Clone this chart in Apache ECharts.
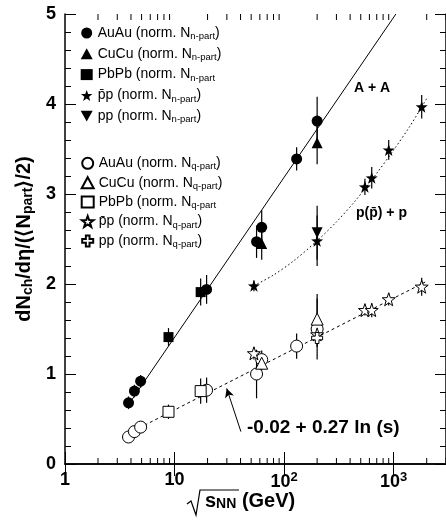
<!DOCTYPE html>
<html><head><meta charset="utf-8">
<script src="https://cdn.jsdelivr.net/npm/echarts@6/dist/echarts.min.js"></script>
<style>html,body{margin:0;padding:0;background:#fff}#c{width:446px;height:521px}</style>
</head><body><div id="c"></div>
<script>
// ---- data ----
const auauX = [3.8, 4.3, 4.9, 19.6, 56, 62.4, 130, 200];
const auauNpart = [0.68, 0.81, 0.92, 1.94, 2.47, 2.63, 3.39, 3.81];
const auauNpartErr = [0.07, 0.07, 0.07, 0.16, 0.18, 0.19, 0.13, 0.27];
const auauNq = [0.30, 0.36, 0.41, 0.82, 1.00, 1.16, 1.31, 1.50];
const auauNqErr = [0.04, 0.04, 0.04, 0.14, 0.27, 0.10, 0.14, 0.34];

const cucuX = [62.4, 200];
const cucuNpart = [2.45, 3.57];
const cucuNpartErr = [0.18, 0.24];
const cucuNq = [1.12, 1.61];
const cucuNqErr = [0.08, 0.28];

const pbpbX = [8.8, 17.3];
const pbpbNpart = [1.41, 1.91];
const pbpbNpartErr = [0.10, 0.15];
const pbpbNq = [0.58, 0.81];
const pbpbNqErr = [0.08, 0.14];

const ppbarX = [53, 200, 546, 630, 900, 1800];
const ppbarNpart = [1.98, 2.48, 3.08, 3.18, 3.49, 3.97];
const ppbarNpartErr = [0.06, 0.28, 0.09, 0.12, 0.11, 0.13];
const ppbarNq = [1.23, 1.44, 1.71, 1.71, 1.83, 1.97];
const ppbarNqErr = [0.07, 0.10, 0.06, 0.08, 0.07, 0.10];

const ppX = [200];
const ppNpart = [2.57];
const ppNpartErr = [0.30];
const ppNq = [1.40];
const ppNqErr = [0.10];

// fit curves
const aaFitX = [3.8, 1047];
const aaFitY = [0.66, 5.0];
const ppFitX = [53, 80, 120, 200, 300, 450, 700, 1000, 1400, 2000];
const ppFitY = [1.98, 2.10, 2.25, 2.48, 2.69, 2.93, 3.23, 3.49, 3.75, 4.06];
const qFitX = [3.8, 2000];
const qFitY = [0.34, 2.03];
const arrowFrom = [40.3, 0.36];
const arrowTo = [29.9, 0.84];

// axes
const xMin = 1, xMax = 3000;
const yMin = 0, yMax = 5;
const xMinorTicks = [2,3,4,5,6,7,8,9,20,30,40,50,60,70,80,90,200,300,400,500,600,700,800,900,2000,3000];

const FONT = '"Liberation Sans", Arial, Helvetica, sans-serif';
const STAR = 'path://M0,-10 L2.35,-3.24 L9.51,-3.09 L3.8,1.24 L5.88,8.09 L0,4 L-5.88,8.09 L-3.8,1.24 L-9.51,-3.09 L-2.35,-3.24 Z';
const CROSS = 'path://M-1,-3 L1,-3 L1,-1 L3,-1 L3,1 L1,1 L1,3 L-1,3 L-1,1 L-3,1 L-3,-1 L-1,-1 Z';
const DTRI = 'path://M-5,-4 L5,-4 L0,5 Z';

const zip = (xs, ys) => xs.map((x, i) => [x, ys[i]]);
const zip3 = (xs, ys, es) => xs.map((x, i) => [x, ys[i], es[i]]);

const filled = {color: '#000', opacity: 1};
const open = {color: '#fff', borderColor: '#000', borderWidth: 1, opacity: 1};

const pts = [
  {name: 'AuAu_n', x: auauX, y: auauNpart, e: auauNpartErr, symbol: 'circle', size: 11, style: filled, label: 'AuAu (norm. N{sub|n-part})'},
  {name: 'CuCu_n', x: cucuX, y: cucuNpart, e: cucuNpartErr, symbol: 'triangle', size: 11, style: filled, label: 'CuCu (norm. N{sub|n-part})'},
  {name: 'PbPb_n', x: pbpbX, y: pbpbNpart, e: pbpbNpartErr, symbol: 'rect', size: 10, style: filled, label: 'PbPb (norm. N{sub|n-part}'},
  {name: 'ppbar_n', x: ppbarX, y: ppbarNpart, e: ppbarNpartErr, symbol: STAR, size: 12, style: filled, label: 'p\u0304p (norm. N{sub|n-part})'},
  {name: 'pp_n', x: ppX, y: ppNpart, e: ppNpartErr, symbol: DTRI, size: 11, style: filled, label: 'pp (norm. N{sub|n-part})'},
  {name: 'AuAu_q', x: auauX, y: auauNq, e: auauNqErr, symbol: 'circle', size: 12, style: open, label: 'AuAu (norm. N{sub|q-part})'},
  {name: 'CuCu_q', x: cucuX, y: cucuNq, e: cucuNqErr, symbol: 'triangle', size: 12, style: open, label: 'CuCu (norm. N{sub|q-part})'},
  {name: 'PbPb_q', x: pbpbX, y: pbpbNq, e: pbpbNqErr, symbol: 'rect', size: 11, style: open, label: 'PbPb (norm. N{sub|q-part}'},
  {name: 'ppbar_q', x: ppbarX, y: ppbarNq, e: ppbarNqErr, symbol: STAR, size: 13, style: open, label: 'p\u0304p (norm. N{sub|q-part})'},
  {name: 'pp_q', x: ppX, y: ppNq, e: ppNqErr, symbol: CROSS, size: 11, style: open, label: 'pp (norm. N{sub|q-part})'}
];
const labelMap = {};
pts.forEach(p => labelMap[p.name] = p.label);

const errData = [];
pts.forEach(p => zip3(p.x, p.y, p.e).forEach(d => errData.push(d)));

const chart = echarts.init(document.getElementById('c'), null, {renderer: 'canvas'});

const legendText = {
  fontFamily: FONT, fontSize: 14, color: '#000', lineHeight: 16,
  rich: {sub: {fontFamily: FONT, fontSize: 9.5, lineHeight: 10, padding: [7, 0, 0, 0], color: '#000'}}
};

const xLabelFmt = v => {
  const p = Math.round(Math.log10(v));
  if (Math.abs(Math.log10(v) - p) > 1e-6) return '';
  if (p === 0) return '1';
  if (p === 1) return '10';
  return '10{sup|' + p + '}';
};

const option = {
  animation: false,
  backgroundColor: '#fff',
  grid: {left: 65, top: 14, width: 385, height: 450, containLabel: false},
  xAxis: [
    {type: 'log', logBase: 10, min: xMin, max: xMax, position: 'bottom',
      axisLine: {show: true, lineStyle: {color: '#000', width: 1.5}},
      axisTick: {show: true, inside: true, length: 12, lineStyle: {color: '#000', width: 1}},
      minorTick: {show: false},
      splitLine: {show: false},
      axisLabel: {show: true, margin: 7, showMaxLabel: false, color: '#000',
        fontFamily: FONT, fontSize: 18, fontWeight: 'bold', formatter: xLabelFmt,
        rich: {sup: {fontFamily: FONT, fontSize: 13, fontWeight: 'bold', padding: [0, 0, 9, 0], color: '#000'}}}
    },
    {type: 'log', logBase: 10, min: xMin, max: xMax, position: 'top',
      axisLine: {show: true, lineStyle: {color: '#000', width: 1.5}},
      axisTick: {show: true, inside: true, length: 12, lineStyle: {color: '#000', width: 1}},
      splitLine: {show: false}, axisLabel: {show: false}
    }
  ],
  yAxis: [
    {type: 'value', min: yMin, max: yMax, interval: 1, position: 'left',
      axisLine: {show: true, lineStyle: {color: '#000', width: 1.5}},
      axisTick: {show: true, inside: true, length: 11, lineStyle: {color: '#000', width: 1}},
      minorTick: {show: true, splitNumber: 5, length: 6, lineStyle: {color: '#000', width: 1}},
      splitLine: {show: false},
      axisLabel: {margin: 9, color: '#000', fontFamily: FONT, fontSize: 18, fontWeight: 'bold'},
      name: 'dN{sub|ch}/d\u03b7/(\u27e8N{sub|part}\u27e9/2)',
      nameLocation: 'middle', nameRotate: 90, nameGap: 30,
      nameTextStyle: {color: '#000', fontFamily: FONT, fontSize: 20, fontWeight: 'bold',
        rich: {sub: {fontFamily: FONT, fontSize: 14, fontWeight: 'bold', padding: [8, 0, 0, 0], color: '#000'}}}
    },
    {type: 'value', min: yMin, max: yMax, interval: 1, position: 'right',
      axisLine: {show: true, lineStyle: {color: '#000', width: 1.5}},
      axisTick: {show: true, inside: true, length: 11, lineStyle: {color: '#000', width: 1}},
      minorTick: {show: true, splitNumber: 5, length: 6, lineStyle: {color: '#000', width: 1}},
      splitLine: {show: false}, axisLabel: {show: false}
    }
  ],
  legend: [
    {data: pts.slice(0, 5).map(p => p.name), orient: 'vertical', left: 80.7, top: 24.5,
      padding: 0, itemWidth: 12, itemHeight: 11, itemGap: 3.8, itemTextGap: 5,
      textStyle: legendText, formatter: n => labelMap[n], selectedMode: false},
    {data: pts.slice(5).map(p => p.name), orient: 'vertical', left: 80.7, top: 154.8,
      padding: 0, itemWidth: 12, itemHeight: 11, itemGap: 2.4, itemTextGap: 5,
      textStyle: legendText, formatter: n => labelMap[n], selectedMode: false}
  ],
  graphic: [
    {type: 'text', left: 354, top: 81, style: {text: 'A + A', font: 'bold 14px ' + FONT, fill: '#000'}},
    {type: 'text', left: 356, top: 206, style: {text: 'p(p\u0304) + p', font: 'bold 14px ' + FONT, fill: '#000'}},
    {type: 'text', left: 247, top: 418, style: {text: '-0.02 + 0.27 ln (s)', font: 'bold 19px ' + FONT, fill: '#000'}},
    {type: 'polyline', shape: {points: [[187, 504], [191, 501], [196, 515], [200, 490], [239, 490]]},
      style: {stroke: '#000', lineWidth: 1.2, fill: null}},
    {type: 'text', left: 205, top: 491, style: {
      text: 's{sub|NN} (GeV)', font: 'bold 20px ' + FONT, fill: '#000',
      rich: {sub: {fontFamily: FONT, fontSize: 14, fontWeight: 'bold', padding: [7, 0, 0, 0], fill: '#000'}}}}
  ],
  series: [
    {type: 'custom', name: 'errors', z: 1, clip: false, silent: true,
      data: errData, encode: {x: 0, y: 1},
      renderItem: (params, api) => {
        const x = api.value(0), y = api.value(1), e = api.value(2);
        const a = api.coord([x, y - e]), b = api.coord([x, y + e]);
        return {type: 'line', shape: {x1: a[0], y1: a[1], x2: b[0], y2: b[1]},
          style: {stroke: '#000', lineWidth: 1.2}};
      }},
    {type: 'custom', name: 'xminor', z: 3, clip: false, silent: true,
      data: xMinorTicks.map(v => [v, yMin]), encode: {x: 0, y: 1},
      renderItem: (params, api) => {
        const v = api.value(0);
        const b = api.coord([v, yMin]), t = api.coord([v, yMax]);
        return {type: 'group', children: [
          {type: 'line', shape: {x1: b[0], y1: b[1], x2: b[0], y2: b[1] - 6}, style: {stroke: '#000', lineWidth: 1}},
          {type: 'line', shape: {x1: t[0], y1: t[1], x2: t[0], y2: t[1] + 6}, style: {stroke: '#000', lineWidth: 1}}
        ]};
      }},
    {type: 'line', name: 'aaFit', data: zip(aaFitX, aaFitY), symbol: 'none', silent: true, z: 1,
      clip: true, lineStyle: {color: '#000', width: 1, type: 'solid'}},
    {type: 'line', name: 'ppFit', data: zip(ppFitX, ppFitY), symbol: 'none', silent: true, z: 1,
      smooth: 0.3, clip: true, lineStyle: {color: '#000', width: 1, type: [1.5, 2.5]}},
    {type: 'line', name: 'qFit', data: zip(qFitX, qFitY), symbol: 'none', silent: true, z: 1,
      clip: true, lineStyle: {color: '#000', width: 1, type: [3, 3]},
      markLine: {silent: true, symbol: ['none', 'arrow'], symbolSize: [7, 9], label: {show: false},
        lineStyle: {color: '#000', width: 1, type: 'solid'},
        data: [[{coord: arrowFrom}, {coord: arrowTo}]]}}
  ].concat(pts.map(p => ({
    type: 'scatter', name: p.name, data: zip(p.x, p.y), symbol: p.symbol, symbolSize: p.size,
    itemStyle: p.style, z: 4, silent: true
  })))
};
chart.setOption(option);
</script>
</body></html>
